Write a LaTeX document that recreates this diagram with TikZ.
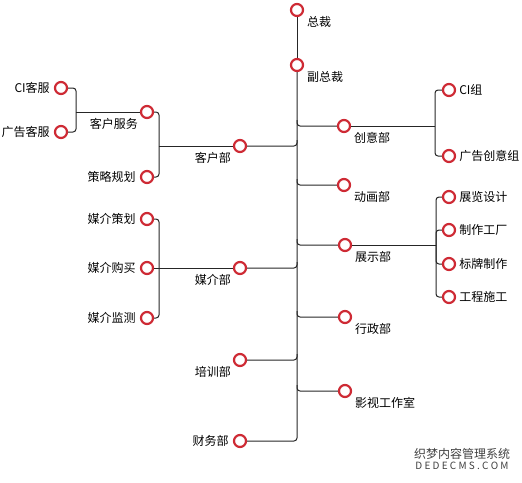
\documentclass[tikz,border=0pt]{standalone}
\usepackage{fontspec}
\setmainfont{Noto Sans CJK SC}
\usetikzlibrary{positioning,calc}
\definecolor{ringred}{RGB}{206,42,52}

\begin{document}
\begin{tikzpicture}[
  x=1pt, y=-1pt,
  every node/.style={font=\fontsize{12}{14}\selectfont},
  ring/.style={circle, draw=ringred, line width=2.2pt, fill=white,
               minimum size=12pt, inner sep=0pt},
  link/.style={draw=black!85, line width=1pt, rounded corners=3pt},
  lab/.style={inner sep=0pt, text=black},
  tagr/.style={label={[lab, xshift=3pt]right:#1}},
  tagl/.style={label={[lab, xshift=-4pt]left:#1}},
  tagbr/.style={label={[lab, anchor=north west, xshift=5pt, yshift=-1.5pt]-45:#1}},
  tagbl/.style={label={[lab, anchor=north east, xshift=-4pt, yshift=-1pt]-135:#1}},
]
\useasboundingbox (0,0) rectangle (522,482);

% trunk
\node[ring, tagbr=总裁] (zc) at (297,10) {};
\node[ring, tagbr=副总裁] (fzc) at (297,65) {};

% departments, right side
\node[ring, tagbr=创意部] (cy) at (344,126) {};
\node[ring, tagbr=动画部] (dh) at (344,185) {};
\node[ring, tagbr=展示部] (zs) at (345,245) {};
\node[ring, tagbr=行政部] (xz) at (345,317) {};
\node[ring, tagbr=影视工作室] (ys) at (345,391) {};

% groups, right side
\node[ring, tagr=CI组] (cizu) at (449,90) {};
\node[ring, tagr=广告创意组] (ggcy) at (449,156) {};
\node[ring, tagr=展览设计] (zlsj) at (449,197) {};
\node[ring, tagr=制作工厂] (zzgc) at (449,230) {};
\node[ring, tagr=标牌制作] (bpzz) at (449,264) {};
\node[ring, tagr=工程施工] (gcsg) at (449,297) {};

% departments, left side
\node[ring, tagbl=客户部] (kh) at (240,146) {};
\node[ring, tagbl=媒介部] (mj) at (240,268) {};
\node[ring, tagbl=培训部] (px) at (240,360) {};
\node[ring, tagl=财务部] (cw) at (240,441) {};

% groups, left side
\node[ring, tagbl=客户服务] (khfw) at (147,112) {};
\node[ring, tagl=策略规划] (clgh) at (147,177) {};
\node[ring, tagl=CI客服] (cikf) at (61,88) {};
\node[ring, tagl=广告客服] (ggkf) at (61,132) {};
\node[ring, tagl=媒介策划] (mjch) at (147,219) {};
\node[ring, tagl=媒介购买] (mjgm) at (147,268) {};
\node[ring, tagl=媒介监测] (mjjc) at (147,318) {};

% junctions
\coordinate (jkf) at (76,112);
\coordinate (jkh) at (159,146);
\coordinate (jmj) at (159,268);
\coordinate (jcy) at (435,126);
\coordinate (jzs) at (436,245);

% main line
\draw[link] (zc) -- (fzc);
\draw[link] (fzc) |- (cw);
\draw[link] (kh) -| ($(fzc |- kh)+(0,-6)$);
\draw[link] (mj) -| ($(fzc |- mj)+(0,-6)$);
\draw[link] (px) -| ($(fzc |- px)+(0,-6)$);
\draw[link] ($(fzc |- cy)+(0,-6)$) |- (cy);
\draw[link] ($(fzc |- dh)+(0,-6)$) |- (dh);
\draw[link] ($(fzc |- zs)+(0,-6)$) |- (zs);
\draw[link] ($(fzc |- xz)+(0,-6)$) |- (xz);
\draw[link] ($(fzc |- ys)+(0,-6)$) |- (ys);

% right subtrees
\draw[link] (cy) -- (jcy);
\draw[link] (jcy) |- (cizu);
\draw[link] (jcy) |- (ggcy);
\draw[link] (zs) -- (jzs);
\draw[link] (jzs) |- (zlsj);
\draw[link] (jzs) |- (zzgc);
\draw[link] (jzs) |- (bpzz);
\draw[link] (jzs) |- (gcsg);

% left subtrees
\draw[link] (cikf) -| (jkf);
\draw[link] (ggkf) -| (jkf);
\draw[link] (jkf) -- (khfw);
\draw[link] (khfw) -| (jkh);
\draw[link] (clgh) -| (jkh);
\draw[link] (jkh) -- (kh);
\draw[link] (mjch) -| (jmj);
\draw[link] (mjjc) -| (jmj);
\draw[link] (mjgm) -- (jmj);
\draw[link] (jmj) -- (mj);

% watermark
\node[text=black!75, inner sep=0pt] (wm) at (462,454) {织梦内容管理系统};
\node[text=black!75, inner sep=0pt, font=\fontsize{10}{11}\selectfont,
      below=2pt of wm] (wmen) {D E D E C M S . C O M};
\end{tikzpicture}
\end{document}
